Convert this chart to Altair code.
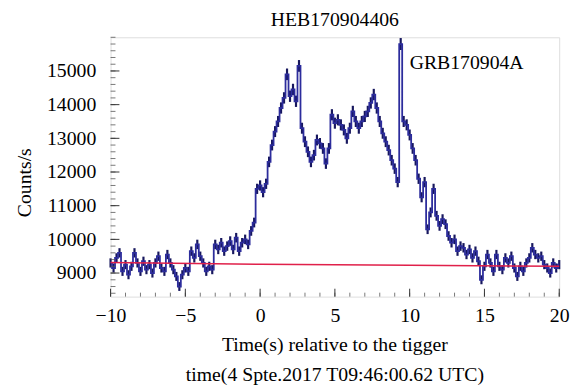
import altair as alt
import pandas as pd

# Light curve (bin start times in s, rate in counts/s)
t_vals = [round(-10 + 0.2 * i, 1) for i in range(151)]
rate_vals = [
    9300, 9150, 9450, 9600, 9050, 9250, 8950, 9200, 9600, 9300,
    9050, 9350, 9100, 9250, 9000, 9300, 9500, 9150, 9050, 9550,
    9300, 9100, 8900, 8600, 8950, 9150, 9050, 9650, 9450, 9850,
    9500, 9300, 9050, 9200, 9100, 9850, 9700, 9900, 9650, 9800,
    9950, 9700, 10050, 9650, 9900, 10000, 9850, 10250, 10500, 11500,
    11600, 11400, 11650, 12300, 12800, 13200, 13500, 13900, 14200, 14900,
    14250, 14450, 14100, 15150, 13300, 12900, 12600, 12300, 12500, 12950,
    12850, 12700, 12250, 12700, 13700, 13450, 13550, 13400, 13250, 13000,
    13300, 13800, 13500, 13300, 13500, 13650, 13800, 14050, 14300, 13900,
    13500, 13150, 12900, 12650, 12350, 12100, 11700, 15800, 13500, 13400,
    13100, 12700, 12350, 11800, 11250, 11700, 10300, 10800, 11500, 10700,
    10400, 10600, 10450, 10100, 9900, 10000, 9650, 9800, 9750, 9550,
    9700, 9450, 9650, 9350, 8800, 9200, 9550, 9300, 9050, 9550,
    9200, 9100, 9450, 9300, 9500, 9150, 8900, 9200, 9050, 9300,
    9450, 9750, 9550, 9450, 9500, 9250, 9150, 9000, 9300, 9150,
    9250,
]

# Background fit (red line)
bg_t = [-10, 0, 10, 20]
bg_rate = [9310, 9260, 9230, 9200]

x_major = [-10, -5, 0, 5, 10, 15, 20]
x_minor = list(range(-10, 21))
y_major = [9000, 10000, 11000, 12000, 13000, 14000, 15000]
y_minor = list(range(8400, 16001, 200))

label_t = [10.0]
label_rate = [15230]
label_text = ["GRB170904A"]

FONT = "Liberation Serif"
W, H = 455, 263

df = pd.DataFrame({"t": t_vals, "rate": rate_vals})
bg = pd.DataFrame({"t": bg_t, "rate": bg_rate})

xs = alt.Scale(domain=[-10, 20], nice=False, zero=False)
ys = alt.Scale(domain=[8300, 16000], nice=False, zero=False)

xaxis = alt.Axis(values=x_major, ticks=False, domain=False, grid=False, format="d",
                 labelFlush=False, labelOverlap=False,
                 labelFont=FONT, labelFontSize=20, labelColor="black", labelPadding=9,
                 title=["Time(s) relative to the tigger",
                        "time(4 Spte.2017 T09:46:00.62 UTC)"],
                 titleFont=FONT, titleFontSize=20, titleFontWeight="normal",
                 titleColor="black", titleLineHeight=30, titleBaseline="top",
                 titleY=39, titleX=227)
yaxis = alt.Axis(values=y_major, ticks=False, domain=False, grid=False, format="d",
                 labelFlush=False, labelOverlap=False,
                 labelFont=FONT, labelFontSize=20, labelColor="black", labelPadding=15,
                 title="Counts/s", titleFont=FONT, titleFontSize=20,
                 titleFontWeight="normal", titleColor="black", titleAngle=270,
                 titleAlign="center", titleBaseline="middle", titleX=-87, titleY=147)

errbars = alt.Chart(df).transform_calculate(
    lo="datum.rate - sqrt(datum.rate/0.5)", hi="datum.rate + sqrt(datum.rate/0.5)"
).mark_rule(color="#17175e", strokeWidth=2.2).encode(
    x=alt.X("t:Q", scale=xs, axis=xaxis), y=alt.Y("lo:Q", scale=ys, axis=yaxis), y2="hi:Q"
)

line = alt.Chart(df).mark_line(interpolate="step", color="#2c2c9c", strokeWidth=1.8).encode(
    x=alt.X("t:Q", scale=xs), y=alt.Y("rate:Q", scale=ys)
)

bgline = alt.Chart(bg).mark_line(color="#e0204a", strokeWidth=1.5).encode(
    x=alt.X("t:Q", scale=xs), y=alt.Y("rate:Q", scale=ys)
)

xmaj = alt.Chart(pd.DataFrame({"t": x_major})).mark_rule(color="#333", strokeWidth=1).encode(
    x=alt.X("t:Q", scale=xs), y=alt.value(H), y2=alt.value(H - 8)
)
xmin = alt.Chart(pd.DataFrame({"t": x_minor})).mark_rule(color="#555", strokeWidth=0.8).encode(
    x=alt.X("t:Q", scale=xs), y=alt.value(H), y2=alt.value(H - 4)
)
ymaj = alt.Chart(pd.DataFrame({"v": y_major})).mark_rule(color="#333", strokeWidth=1).encode(
    y=alt.Y("v:Q", scale=ys), x=alt.value(0), x2=alt.value(9)
)
ymin = alt.Chart(pd.DataFrame({"v": y_minor})).mark_rule(color="#555", strokeWidth=0.8).encode(
    y=alt.Y("v:Q", scale=ys), x=alt.value(0), x2=alt.value(5)
)

label = alt.Chart(pd.DataFrame({"t": label_t, "rate": label_rate, "text": label_text})).mark_text(
    align="left", baseline="middle", font=FONT, fontSize=20, color="black"
).encode(x=alt.X("t:Q", scale=xs), y=alt.Y("rate:Q", scale=ys), text="text:N")

chart = alt.layer(errbars, line, bgline, xmin, xmaj, ymin, ymaj, label).properties(
    width=W, height=H,
    title=alt.TitleParams("HEB170904406", font=FONT, fontSize=20, fontWeight="normal",
                          color="black", anchor="middle", offset=7),
    autosize=alt.AutoSizeParams(type="none"),
    padding={"left": 104, "top": 27, "right": 16, "bottom": 92},
).configure_view(stroke="#444", strokeWidth=1.2).configure(background="white")

chart.save("out.html", embed_options={"renderer": "svg", "actions": False})
